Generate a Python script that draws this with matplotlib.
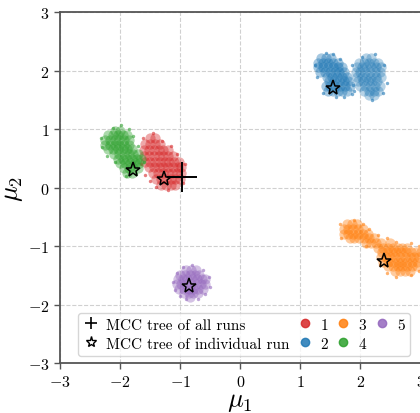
import matplotlib
matplotlib.use("Agg")
import matplotlib.pyplot as plt
import numpy as np
from matplotlib.lines import Line2D

plt.rcParams['font.family'] = 'serif'
plt.rcParams['font.serif'] = ['cmr10']
plt.rcParams['mathtext.fontset'] = 'cm'
plt.rcParams['axes.formatter.use_mathtext'] = True

# posterior samples, row by row: (mu2, [mu1 values])
run1_rows = [(0.85, [-1.50, -1.42]),
             (0.75, [-1.58, -1.50, -1.42, -1.34]),
             (0.65, [-1.60, -1.52, -1.44, -1.36, -1.28, -1.20]),
             (0.55, [-1.60, -1.52, -1.44, -1.36, -1.28, -1.20, -1.12]),
             (0.45, [-1.58, -1.50, -1.42, -1.34, -1.26, -1.18, -1.10, -1.02]),
             (0.35, [-1.52, -1.44, -1.36, -1.28, -1.20, -1.12, -1.04, -0.98]),
             (0.25, [-1.45, -1.37, -1.29, -1.21, -1.13, -1.05, -0.98]),
             (0.15, [-1.40, -1.32, -1.24, -1.16, -1.08, -1.00]),
             (0.05, [-1.32, -1.24, -1.16, -1.08])]
run2_rows = [(2.22, [1.35, 1.43, 1.51]),
             (2.14, [1.30, 1.38, 1.46, 1.54, 1.62]),
             (2.06, [1.30, 1.38, 1.46, 1.54, 1.62, 1.70]),
             (1.98, [1.33, 1.41, 1.49, 1.57, 1.65, 1.72]),
             (1.90, [1.45, 1.53, 1.61, 1.69, 1.77]),
             (1.82, [1.48, 1.56, 1.64, 1.72, 1.80]),
             (1.74, [1.42, 1.50, 1.58, 1.66, 1.74, 1.82]),
             (1.66, [1.46, 1.54, 1.62, 1.70, 1.78])]
run2b_rows = [(2.22, [2.10, 2.18]),
              (2.14, [1.98, 2.06, 2.14, 2.22, 2.30]),
              (2.06, [1.94, 2.02, 2.10, 2.18, 2.26, 2.34]),
              (1.98, [1.92, 2.00, 2.08, 2.16, 2.24, 2.32]),
              (1.90, [1.94, 2.02, 2.10, 2.18, 2.26, 2.34]),
              (1.82, [1.96, 2.04, 2.12, 2.20, 2.28]),
              (1.74, [2.00, 2.08, 2.16, 2.24, 2.32]),
              (1.66, [2.06, 2.14, 2.22, 2.30]),
              (1.58, [2.14, 2.22])]
run3_rows = [(-0.62, [1.78, 1.86, 1.94]),
             (-0.70, [1.72, 1.80, 1.88, 1.96, 2.04]),
             (-0.78, [1.72, 1.80, 1.88, 1.96, 2.04, 2.12]),
             (-0.86, [1.82, 1.90, 1.98, 2.06, 2.14, 2.22]),
             (-0.94, [2.10, 2.18, 2.26, 2.34, 2.50]),
             (-1.02, [2.30, 2.38, 2.46, 2.54, 2.62, 2.70, 2.78]),
             (-1.10, [2.36, 2.44, 2.52, 2.60, 2.68, 2.76, 2.84, 2.92, 3.00]),
             (-1.18, [2.34, 2.42, 2.50, 2.58, 2.66, 2.74, 2.82, 2.90, 2.98]),
             (-1.26, [2.38, 2.46, 2.54, 2.62, 2.70, 2.78, 2.86, 2.94]),
             (-1.34, [2.46, 2.54, 2.62, 2.70, 2.78, 2.86, 2.94]),
             (-1.42, [2.58, 2.66, 2.74, 2.82])]
run4_rows = [(0.98, [-2.08, -2.00]),
             (0.90, [-2.20, -2.12, -2.04, -1.96, -1.88]),
             (0.82, [-2.25, -2.17, -2.09, -2.01, -1.93, -1.85]),
             (0.74, [-2.25, -2.17, -2.09, -2.01, -1.93, -1.85]),
             (0.66, [-2.20, -2.12, -2.04, -1.96, -1.88, -1.80]),
             (0.58, [-2.10, -2.02, -1.94, -1.86, -1.78, -1.70]),
             (0.50, [-2.04, -1.96, -1.88, -1.80, -1.72, -1.66]),
             (0.42, [-2.00, -1.92, -1.84, -1.76, -1.68]),
             (0.34, [-1.94, -1.86, -1.78, -1.70]),
             (0.26, [-1.88, -1.80])]
run5_rows = [(-1.40, [-0.90, -0.82, -0.74]),
             (-1.48, [-1.00, -0.92, -0.84, -0.76, -0.68]),
             (-1.56, [-1.04, -0.96, -0.88, -0.80, -0.72, -0.64, -0.58]),
             (-1.64, [-1.06, -0.98, -0.90, -0.82, -0.74, -0.66, -0.58]),
             (-1.72, [-1.02, -0.94, -0.86, -0.78, -0.70, -0.62]),
             (-1.80, [-0.94, -0.86, -0.78, -0.70]),
             (-1.86, [-0.84])]

# sparse outlying samples
run1_edge = [(-1.62, 0.85), (-1.45, 0.93), (-1.30, 0.80), (-1.66, 0.40), (-1.58, 0.22), (-1.50, 0.12),
             (-1.40, 0.02), (-1.20, -0.04), (-0.95, 0.08), (-0.92, 0.40), (-1.05, 0.58), (-1.15, 0.72)]
run2_edge = [(1.25, 2.10), (1.28, 1.90), (1.42, 2.30), (1.55, 2.28), (1.66, 2.20), (1.86, 1.60),
             (1.72, 1.56), (1.60, 1.55), (1.88, 1.75), (1.38, 1.62), (2.25, 2.28), (2.40, 2.10),
             (2.45, 1.80), (2.38, 1.62), (2.20, 1.50), (1.86, 2.10), (2.02, 2.24), (1.90, 1.65)]
run3_edge = [(1.66, -0.62), (1.68, -0.85), (1.90, -0.55), (2.05, -0.62), (2.15, -0.70), (2.30, -0.80),
             (2.45, -0.86), (2.60, -0.92), (2.10, -1.00), (2.32, -1.32), (2.45, -1.45), (2.60, -1.52),
             (2.85, -1.48), (2.98, -1.42), (2.98, -1.00), (2.85, -0.95)]
run4_edge = [(-2.32, 0.85), (-2.30, 0.70), (-2.12, 1.02), (-1.98, 1.08), (-1.86, 1.00), (-1.78, 0.88),
             (-1.70, 0.72), (-1.60, 0.45), (-1.90, 0.20), (-1.74, 0.24), (-2.08, 0.45), (-2.22, 0.55)]
run5_edge = [(-1.12, -1.60), (-1.08, -1.75), (-1.05, -1.45), (-0.95, -1.36), (-0.80, -1.32), (-0.62, -1.40),
             (-0.52, -1.52), (-0.50, -1.70), (-0.58, -1.82), (-0.70, -1.90), (-0.90, -1.90), (-1.00, -1.84)]

run_labels = ['1', '2', '3', '4', '5']
run_colors = ['#d62728', '#1f77b4', '#ff7f0e', '#2ca02c', '#9467bd']
core_rows = [run1_rows, run2_rows, run3_rows, run4_rows, run5_rows]
edges = [run1_edge, run2_edge, run3_edge, run4_edge, run5_edge]

# MCC trees of the individual runs and of all runs
star_x = [-1.27, 1.55, 2.40, -1.78, -0.85]
star_y = [0.15, 1.70, -1.25, 0.30, -1.67]
mcc_all = (-0.97, 0.18)


def rows_to_xy(rows):
    xs = np.concatenate([np.array(r[1]) for r in rows])
    ys = np.concatenate([np.full(len(r[1]), r[0]) for r in rows])
    return xs, ys


fig = plt.figure(figsize=(4.2, 4.14), dpi=100)
ax = fig.add_axes([0.1429, 0.1196, 0.8583, 0.8483])

for rows, edge, c in zip(core_rows, edges, run_colors):
    xs, ys = rows_to_xy(rows)
    edge = np.array(edge)
    ax.scatter(xs, ys, s=55, color=c, alpha=0.4, lw=0)
    ax.scatter(edge[:, 0], edge[:, 1], s=6, color=c, alpha=0.6, lw=0)
    if c == run_colors[1]:
        bx, by = rows_to_xy(run2b_rows)
        ax.scatter(bx, by, s=55, color=c, alpha=0.32, lw=0)

ax.plot(star_x, star_y, ls='none', marker='*', ms=11, mfc='none', mec='black', mew=1.1)
ax.plot(mcc_all[0], mcc_all[1], ls='none', marker='+', ms=21, mec='black', mew=1.4)

ax.set_xlim(-3, 3)
ax.set_ylim(-3, 3)
ax.set_xticks(range(-3, 4))
ax.set_yticks(range(-3, 4))
ax.grid(True, ls='--', color='#d0d0d0', lw=0.8)
ax.set_axisbelow(True)
for side in ['left', 'bottom', 'top']:
    ax.spines[side].set_color('#555555')
    ax.spines[side].set_linewidth(1.3)
ax.spines['right'].set_visible(False)
ax.tick_params(labelsize=11.5, color='#555555', length=4, width=1)
ax.set_xlabel(r'$\mu_1$', fontsize=19, labelpad=0)
ax.set_ylabel(r'$\mu_2$', fontsize=19, labelpad=2)

handles = [Line2D([], [], ls='none', marker='+', ms=9, mec='black', mew=1.2),
           Line2D([], [], ls='none', marker='*', ms=8, mfc='none', mec='black', mew=1.0)]
labels = ['MCC tree of all runs', 'MCC tree of individual run']
for lab, c in zip(run_labels, run_colors):
    handles.append(Line2D([], [], ls='none', marker='o', ms=6, color=c, alpha=0.85))
    labels.append(lab)
ax.legend(handles, labels, ncol=4, loc='lower left', bbox_to_anchor=(0.05, 0.021),
          borderaxespad=0, fontsize=11, handlelength=1.0, handletextpad=0.5,
          columnspacing=0.5, framealpha=0.8, edgecolor='#cccccc', borderpad=0.35,
          labelspacing=0.35)

fig.savefig('out.png', dpi=100)
